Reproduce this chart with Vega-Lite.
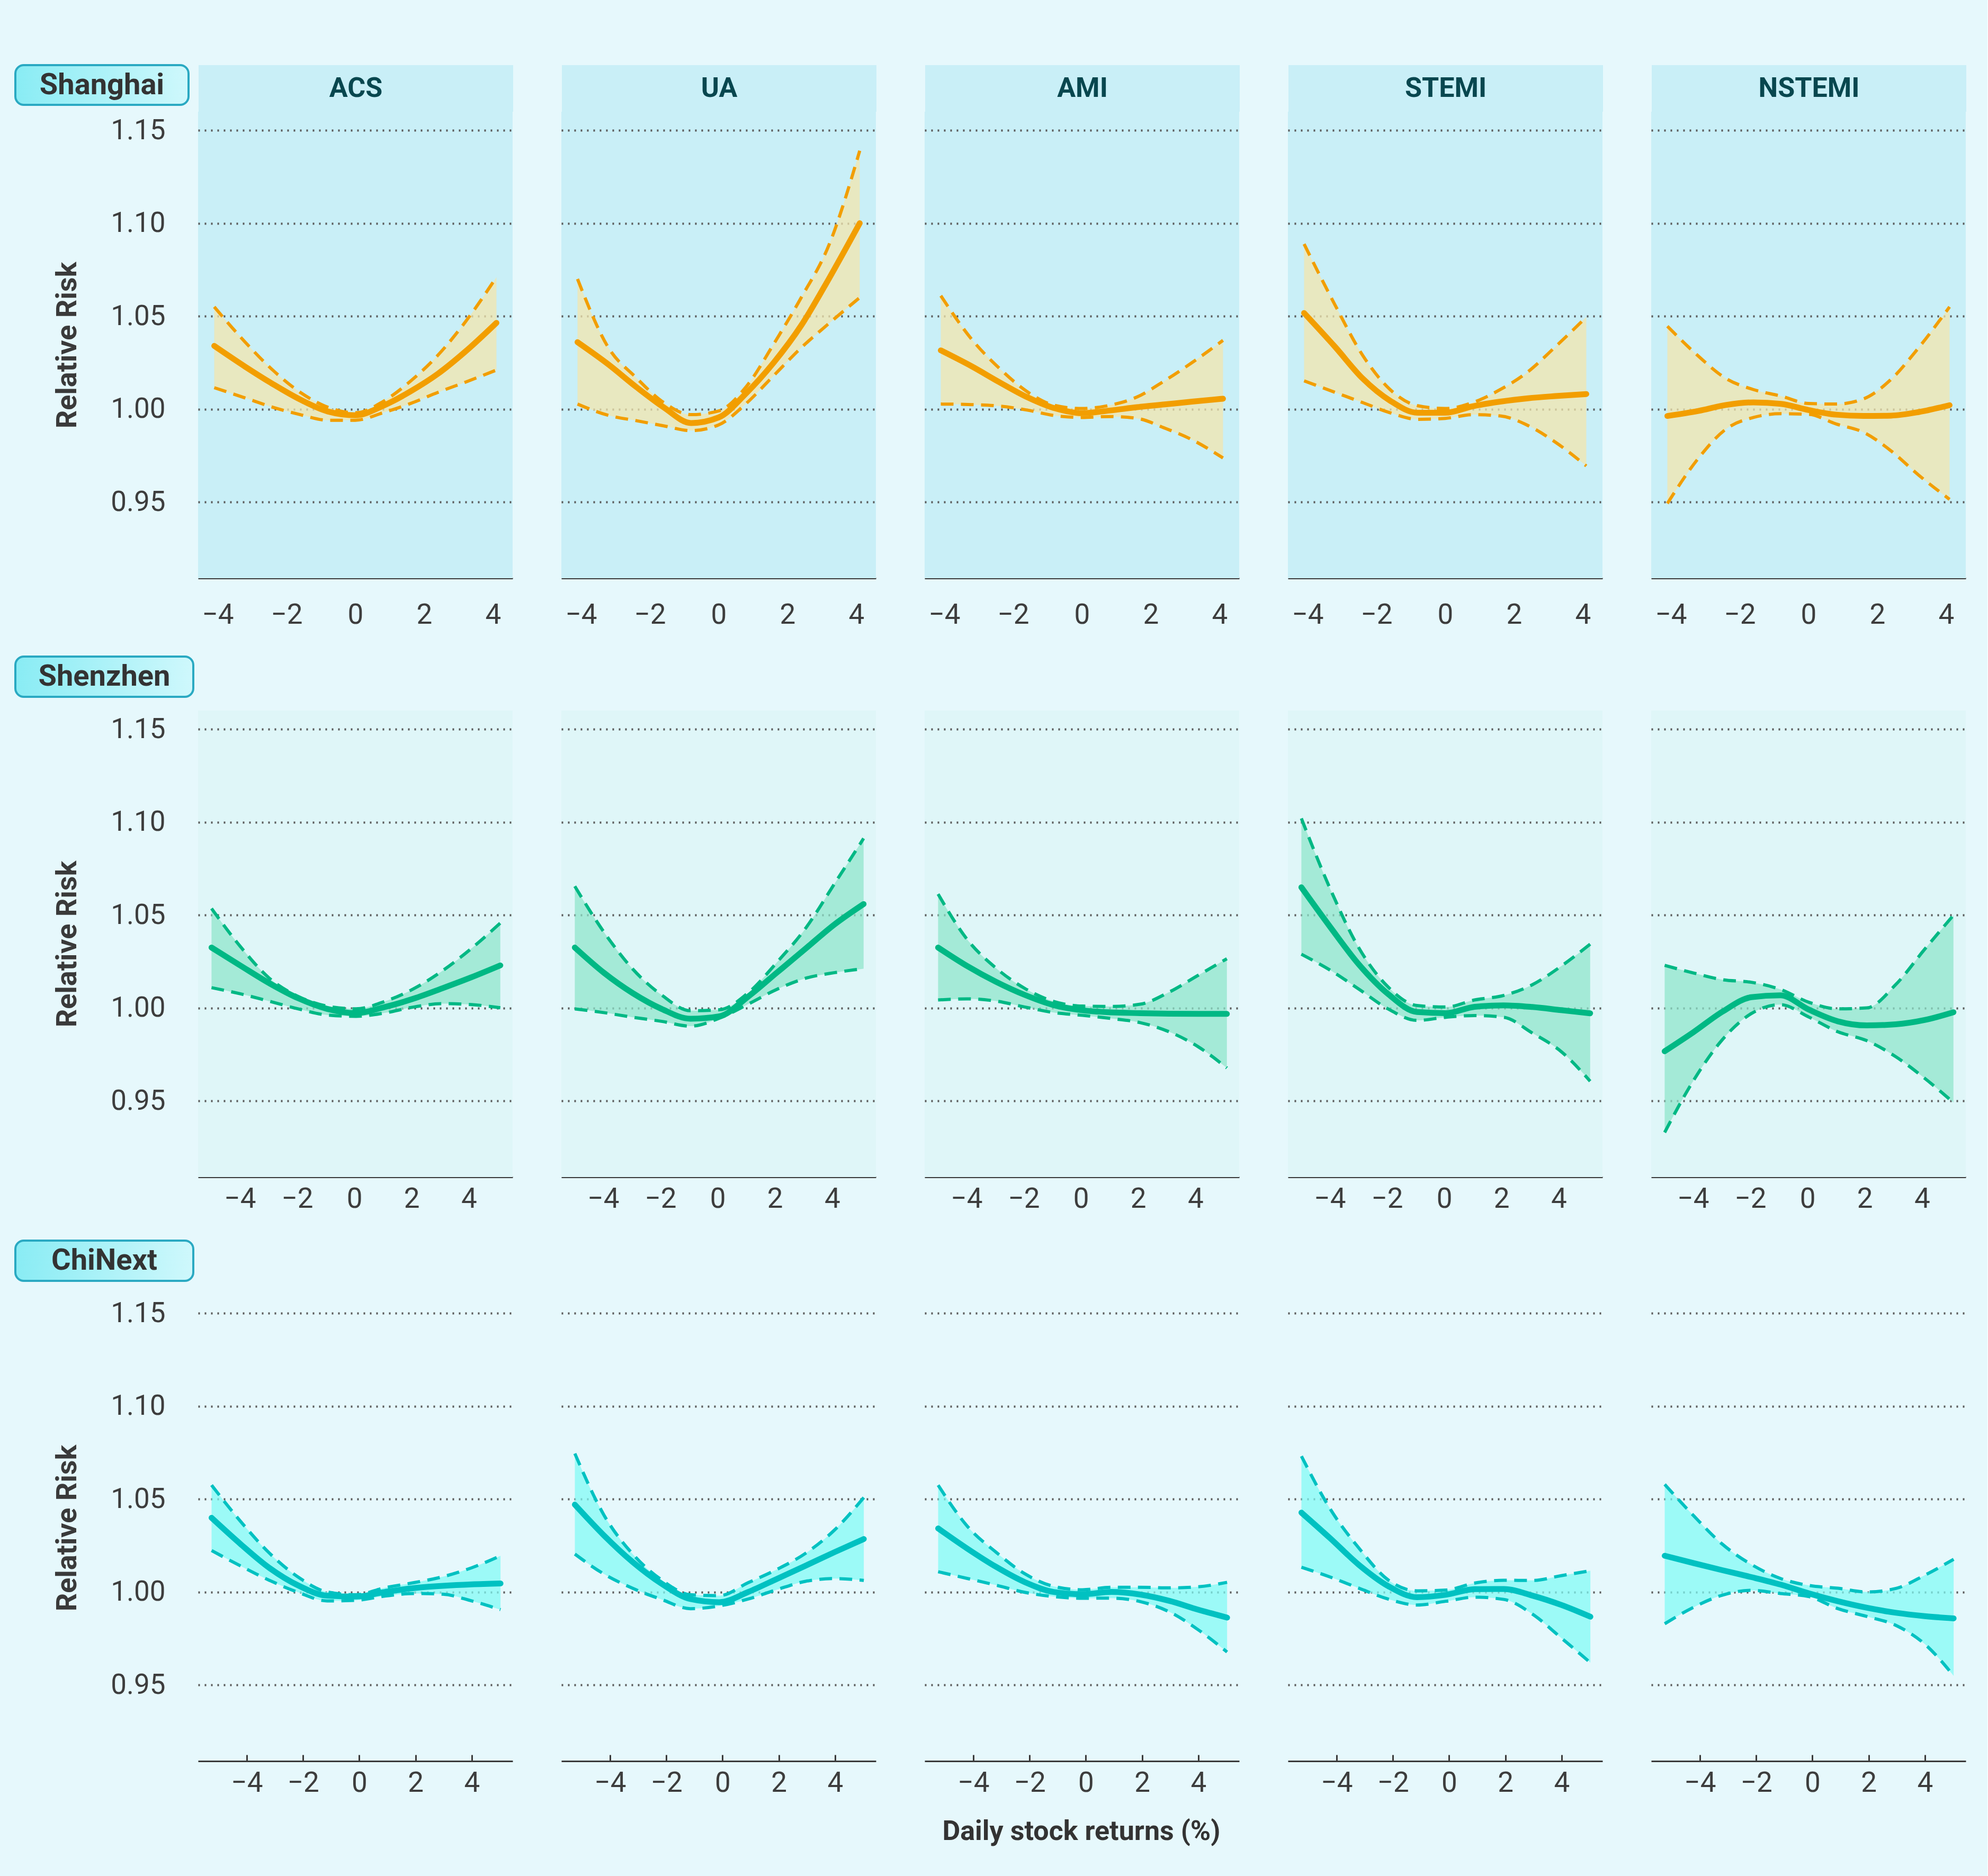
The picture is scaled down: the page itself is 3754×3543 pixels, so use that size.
{
  "$schema": "https://vega.github.io/schema/vega-lite/v6.json",
  "background": "#e6f8fc",
  "padding": {"left": 27, "top": 121, "right": 40, "bottom": 58},
  "config": {
    "font": "Roboto",
    "view": {"stroke": null},
    "axis": {"labelFont": "Roboto", "titleFont": "Roboto"}
  },
  "title": {
    "text": "Daily stock returns (%)",
    "orient": "bottom",
    "anchor": "middle",
    "dx": 172,
    "offset": 40,
    "font": "Roboto",
    "fontSize": 52,
    "fontWeight": "bold",
    "color": "#333333"
  },
  "datasets": {
    "shanghai": [
      {"o": "ACS", "x": -4.1, "e": 1.034, "l": 1.0115, "u": 1.055},
      {"o": "ACS", "x": -3.2, "e": 1.0228, "l": 1.006, "u": 1.036},
      {"o": "ACS", "x": -2.4, "e": 1.0135, "l": 1.001, "u": 1.021},
      {"o": "ACS", "x": -1.6, "e": 1.0051, "l": 0.997, "u": 1.009},
      {"o": "ACS", "x": -0.8, "e": 0.9987, "l": 0.994, "u": 1.001},
      {"o": "ACS", "x": 0, "e": 0.9967, "l": 0.994, "u": 0.998},
      {"o": "ACS", "x": 0.8, "e": 1.0017, "l": 0.998, "u": 1.004},
      {"o": "ACS", "x": 1.6, "e": 1.0095, "l": 1.003, "u": 1.015},
      {"o": "ACS", "x": 2.4, "e": 1.019, "l": 1.009, "u": 1.029},
      {"o": "ACS", "x": 3.2, "e": 1.031, "l": 1.0145, "u": 1.047},
      {"o": "ACS", "x": 4.1, "e": 1.0464, "l": 1.021, "u": 1.071},
      {"o": "UA", "x": -4.1, "e": 1.036, "l": 1.0027, "u": 1.07},
      {"o": "UA", "x": -3.2, "e": 1.024, "l": 0.9966, "u": 1.033},
      {"o": "UA", "x": -2.4, "e": 1.012, "l": 0.9938, "u": 1.017},
      {"o": "UA", "x": -1.6, "e": 1.001, "l": 0.991, "u": 1.0036},
      {"o": "UA", "x": -0.8, "e": 0.9925, "l": 0.9884, "u": 0.997},
      {"o": "UA", "x": 0, "e": 0.9955, "l": 0.9915, "u": 0.999},
      {"o": "UA", "x": 0.8, "e": 1.0085, "l": 1.003, "u": 1.012},
      {"o": "UA", "x": 1.6, "e": 1.025, "l": 1.018, "u": 1.035},
      {"o": "UA", "x": 2.4, "e": 1.045, "l": 1.033, "u": 1.06},
      {"o": "UA", "x": 3.2, "e": 1.07, "l": 1.046, "u": 1.088},
      {"o": "UA", "x": 4.1, "e": 1.1, "l": 1.06, "u": 1.139},
      {"o": "AMI", "x": -4.1, "e": 1.0316, "l": 1.0027, "u": 1.061},
      {"o": "AMI", "x": -3.2, "e": 1.023, "l": 1.0024, "u": 1.0375},
      {"o": "AMI", "x": -2.4, "e": 1.0145, "l": 1.0016, "u": 1.022},
      {"o": "AMI", "x": -1.6, "e": 1.0065, "l": 0.9995, "u": 1.0095},
      {"o": "AMI", "x": -0.8, "e": 1.0005, "l": 0.9965, "u": 1.002},
      {"o": "AMI", "x": 0, "e": 0.9978, "l": 0.9955, "u": 1.0003},
      {"o": "AMI", "x": 0.8, "e": 0.9992, "l": 0.996, "u": 1.002},
      {"o": "AMI", "x": 1.6, "e": 1.001, "l": 0.995, "u": 1.0065},
      {"o": "AMI", "x": 2.4, "e": 1.0025, "l": 0.9898, "u": 1.0152},
      {"o": "AMI", "x": 3.2, "e": 1.004, "l": 0.9835, "u": 1.025},
      {"o": "AMI", "x": 4.1, "e": 1.0056, "l": 0.9737, "u": 1.037},
      {"o": "STEMI", "x": -4.1, "e": 1.0517, "l": 1.0152, "u": 1.0888},
      {"o": "STEMI", "x": -3.2, "e": 1.0335, "l": 1.009, "u": 1.056},
      {"o": "STEMI", "x": -2.4, "e": 1.0165, "l": 1.0035, "u": 1.029},
      {"o": "STEMI", "x": -1.6, "e": 1.0045, "l": 0.998, "u": 1.0105},
      {"o": "STEMI", "x": -0.8, "e": 0.998, "l": 0.9945, "u": 1.0018},
      {"o": "STEMI", "x": 0, "e": 0.998, "l": 0.995, "u": 1.0003},
      {"o": "STEMI", "x": 0.8, "e": 1.0015, "l": 0.997, "u": 1.0035},
      {"o": "STEMI", "x": 1.6, "e": 1.004, "l": 0.9963, "u": 1.0105},
      {"o": "STEMI", "x": 2.4, "e": 1.0058, "l": 0.9912, "u": 1.02},
      {"o": "STEMI", "x": 3.2, "e": 1.007, "l": 0.9822, "u": 1.0335},
      {"o": "STEMI", "x": 4.1, "e": 1.0081, "l": 0.9694, "u": 1.0495},
      {"o": "NSTEMI", "x": -4.1, "e": 0.9963, "l": 0.9492, "u": 1.0446},
      {"o": "NSTEMI", "x": -3.2, "e": 0.999, "l": 0.9735, "u": 1.0285},
      {"o": "NSTEMI", "x": -2.4, "e": 1.0022, "l": 0.9892, "u": 1.0165},
      {"o": "NSTEMI", "x": -1.6, "e": 1.0036, "l": 0.9955, "u": 1.0105},
      {"o": "NSTEMI", "x": -0.8, "e": 1.0028, "l": 0.9975, "u": 1.007},
      {"o": "NSTEMI", "x": 0, "e": 0.9995, "l": 0.9972, "u": 1.003},
      {"o": "NSTEMI", "x": 0.8, "e": 0.997, "l": 0.992, "u": 1.0027},
      {"o": "NSTEMI", "x": 1.6, "e": 0.9963, "l": 0.9875, "u": 1.0055},
      {"o": "NSTEMI", "x": 2.4, "e": 0.9965, "l": 0.9775, "u": 1.016},
      {"o": "NSTEMI", "x": 3.2, "e": 0.9984, "l": 0.9645, "u": 1.033},
      {"o": "NSTEMI", "x": 4.1, "e": 1.0021, "l": 0.9514, "u": 1.055}
    ],
    "shenzhen": [
      {"o": "ACS", "x": -4.99, "e": 1.0325, "l": 1.0109, "u": 1.0535},
      {"o": "ACS", "x": -3.98, "e": 1.0228, "l": 1.0076, "u": 1.033},
      {"o": "ACS", "x": -2.97, "e": 1.0133, "l": 1.0036, "u": 1.016},
      {"o": "ACS", "x": -1.96, "e": 1.0052, "l": 0.9995, "u": 1.0062},
      {"o": "ACS", "x": -0.95, "e": 0.9995, "l": 0.9962, "u": 1.001},
      {"o": "ACS", "x": 0.06, "e": 0.9972, "l": 0.9955, "u": 0.9995},
      {"o": "ACS", "x": 1.06, "e": 1.0005, "l": 0.9973, "u": 1.0035},
      {"o": "ACS", "x": 2.07, "e": 1.005, "l": 1.0005, "u": 1.0103},
      {"o": "ACS", "x": 3.08, "e": 1.0106, "l": 1.0023, "u": 1.02},
      {"o": "ACS", "x": 4.09, "e": 1.0165, "l": 1.0018, "u": 1.032},
      {"o": "ACS", "x": 5.1, "e": 1.0229, "l": 1.0001, "u": 1.0457},
      {"o": "UA", "x": -4.99, "e": 1.0325, "l": 0.9995, "u": 1.0655},
      {"o": "UA", "x": -3.98, "e": 1.019, "l": 0.9975, "u": 1.041},
      {"o": "UA", "x": -2.97, "e": 1.008, "l": 0.995, "u": 1.021},
      {"o": "UA", "x": -1.96, "e": 0.9995, "l": 0.9928, "u": 1.007},
      {"o": "UA", "x": -0.95, "e": 0.9942, "l": 0.9902, "u": 0.9985},
      {"o": "UA", "x": 0.06, "e": 0.9955, "l": 0.9945, "u": 0.999},
      {"o": "UA", "x": 1.06, "e": 1.006, "l": 1.002, "u": 1.008},
      {"o": "UA", "x": 2.07, "e": 1.019, "l": 1.01, "u": 1.0245},
      {"o": "UA", "x": 3.08, "e": 1.032, "l": 1.016, "u": 1.043},
      {"o": "UA", "x": 4.09, "e": 1.045, "l": 1.019, "u": 1.067},
      {"o": "UA", "x": 5.1, "e": 1.0559, "l": 1.0211, "u": 1.0912},
      {"o": "AMI", "x": -4.99, "e": 1.0325, "l": 1.0043, "u": 1.0613},
      {"o": "AMI", "x": -3.98, "e": 1.0226, "l": 1.0049, "u": 1.037},
      {"o": "AMI", "x": -2.97, "e": 1.0141, "l": 1.0037, "u": 1.0215},
      {"o": "AMI", "x": -1.96, "e": 1.007, "l": 1.0005, "u": 1.0105},
      {"o": "AMI", "x": -0.95, "e": 1.0015, "l": 0.9975, "u": 1.0035},
      {"o": "AMI", "x": 0.06, "e": 0.9987, "l": 0.996, "u": 1.001},
      {"o": "AMI", "x": 1.06, "e": 0.9976, "l": 0.9943, "u": 1.0008},
      {"o": "AMI", "x": 2.07, "e": 0.9972, "l": 0.9921, "u": 1.002},
      {"o": "AMI", "x": 3.08, "e": 0.9969, "l": 0.9872, "u": 1.0085},
      {"o": "AMI", "x": 4.09, "e": 0.9968, "l": 0.9792, "u": 1.0175},
      {"o": "AMI", "x": 5.1, "e": 0.9968, "l": 0.9677, "u": 1.0265},
      {"o": "STEMI", "x": -4.99, "e": 1.0649, "l": 1.0289, "u": 1.102},
      {"o": "STEMI", "x": -3.98, "e": 1.0435, "l": 1.0203, "u": 1.064},
      {"o": "STEMI", "x": -2.97, "e": 1.0232, "l": 1.01, "u": 1.032},
      {"o": "STEMI", "x": -1.96, "e": 1.0075, "l": 0.9995, "u": 1.0113},
      {"o": "STEMI", "x": -0.95, "e": 0.9978, "l": 0.9933, "u": 1.0013},
      {"o": "STEMI", "x": 0.06, "e": 0.9972, "l": 0.995, "u": 1.0005},
      {"o": "STEMI", "x": 1.06, "e": 1.0006, "l": 0.9959, "u": 1.0043},
      {"o": "STEMI", "x": 2.07, "e": 1.0014, "l": 0.995, "u": 1.0067},
      {"o": "STEMI", "x": 3.08, "e": 1.0005, "l": 0.9865, "u": 1.0125},
      {"o": "STEMI", "x": 4.09, "e": 0.9988, "l": 0.9765, "u": 1.0225},
      {"o": "STEMI", "x": 5.1, "e": 0.9971, "l": 0.9606, "u": 1.0343},
      {"o": "NSTEMI", "x": -4.99, "e": 0.9767, "l": 0.933, "u": 1.0229},
      {"o": "NSTEMI", "x": -3.98, "e": 0.987, "l": 0.961, "u": 1.0188},
      {"o": "NSTEMI", "x": -2.97, "e": 0.998, "l": 0.983, "u": 1.0152},
      {"o": "NSTEMI", "x": -1.96, "e": 1.0058, "l": 0.997, "u": 1.0138},
      {"o": "NSTEMI", "x": -0.95, "e": 1.0068, "l": 1.0018, "u": 1.01},
      {"o": "NSTEMI", "x": 0.06, "e": 0.999, "l": 0.995, "u": 1.003},
      {"o": "NSTEMI", "x": 1.06, "e": 0.9928, "l": 0.9872, "u": 0.9995},
      {"o": "NSTEMI", "x": 2.07, "e": 0.9906, "l": 0.9824, "u": 1.0},
      {"o": "NSTEMI", "x": 3.08, "e": 0.9912, "l": 0.9738, "u": 1.0125},
      {"o": "NSTEMI", "x": 4.09, "e": 0.9935, "l": 0.9622, "u": 1.0315},
      {"o": "NSTEMI", "x": 5.1, "e": 0.9977, "l": 0.9491, "u": 1.0499}
    ],
    "chinext": [
      {"o": "ACS", "x": -5.25, "e": 1.0399, "l": 1.0223, "u": 1.0575},
      {"o": "ACS", "x": -4.22, "e": 1.0258, "l": 1.014, "u": 1.038},
      {"o": "ACS", "x": -3.2, "e": 1.013, "l": 1.0063, "u": 1.021},
      {"o": "ACS", "x": -2.17, "e": 1.0035, "l": 0.9998, "u": 1.008},
      {"o": "ACS", "x": -1.14, "e": 0.998, "l": 0.9952, "u": 1.0},
      {"o": "ACS", "x": -0.12, "e": 0.9975, "l": 0.9955, "u": 0.9985},
      {"o": "ACS", "x": 0.91, "e": 1.0, "l": 0.9978, "u": 1.0023},
      {"o": "ACS", "x": 1.94, "e": 1.0021, "l": 0.9992, "u": 1.005},
      {"o": "ACS", "x": 2.97, "e": 1.0033, "l": 0.9988, "u": 1.0082},
      {"o": "ACS", "x": 3.99, "e": 1.0041, "l": 0.9952, "u": 1.013},
      {"o": "ACS", "x": 5.02, "e": 1.0046, "l": 0.9905, "u": 1.0195},
      {"o": "UA", "x": -5.25, "e": 1.047, "l": 1.0204, "u": 1.0745},
      {"o": "UA", "x": -4.22, "e": 1.0305, "l": 1.0097, "u": 1.0415},
      {"o": "UA", "x": -3.2, "e": 1.0162, "l": 1.002, "u": 1.0205},
      {"o": "UA", "x": -2.17, "e": 1.0045, "l": 0.996, "u": 1.0065},
      {"o": "UA", "x": -1.14, "e": 0.9962, "l": 0.991, "u": 0.9985},
      {"o": "UA", "x": -0.12, "e": 0.9945, "l": 0.9925, "u": 0.998},
      {"o": "UA", "x": 0.91, "e": 1.0, "l": 0.9962, "u": 1.005},
      {"o": "UA", "x": 1.94, "e": 1.0071, "l": 1.0013, "u": 1.0122},
      {"o": "UA", "x": 2.97, "e": 1.0143, "l": 1.0058, "u": 1.021},
      {"o": "UA", "x": 3.99, "e": 1.0215, "l": 1.0072, "u": 1.0335},
      {"o": "UA", "x": 5.02, "e": 1.0285, "l": 1.0062, "u": 1.0508},
      {"o": "AMI", "x": -5.25, "e": 1.0342, "l": 1.0109, "u": 1.0575},
      {"o": "AMI", "x": -4.22, "e": 1.0234, "l": 1.0073, "u": 1.0355},
      {"o": "AMI", "x": -3.2, "e": 1.0136, "l": 1.0037, "u": 1.0215},
      {"o": "AMI", "x": -2.17, "e": 1.0053, "l": 0.9998, "u": 1.0098},
      {"o": "AMI", "x": -1.14, "e": 1.0, "l": 0.9975, "u": 1.003},
      {"o": "AMI", "x": -0.12, "e": 0.9988, "l": 0.9966, "u": 1.0012},
      {"o": "AMI", "x": 0.91, "e": 1.0, "l": 0.9967, "u": 1.0025},
      {"o": "AMI", "x": 1.94, "e": 0.9986, "l": 0.9948, "u": 1.0025},
      {"o": "AMI", "x": 2.97, "e": 0.9952, "l": 0.9893, "u": 1.0022},
      {"o": "AMI", "x": 3.99, "e": 0.9905, "l": 0.9797, "u": 1.0028},
      {"o": "AMI", "x": 5.02, "e": 0.9862, "l": 0.9677, "u": 1.0052},
      {"o": "STEMI", "x": -5.25, "e": 1.0427, "l": 1.0133, "u": 1.0731},
      {"o": "STEMI", "x": -4.22, "e": 1.0288, "l": 1.008, "u": 1.0445},
      {"o": "STEMI", "x": -3.2, "e": 1.0145, "l": 1.002, "u": 1.0235},
      {"o": "STEMI", "x": -2.17, "e": 1.0032, "l": 0.9962, "u": 1.0065},
      {"o": "STEMI", "x": -1.14, "e": 0.9972, "l": 0.993, "u": 1.0006},
      {"o": "STEMI", "x": -0.12, "e": 0.9985, "l": 0.995, "u": 1.001},
      {"o": "STEMI", "x": 0.91, "e": 1.0015, "l": 0.9972, "u": 1.0048},
      {"o": "STEMI", "x": 1.94, "e": 1.0016, "l": 0.996, "u": 1.0063},
      {"o": "STEMI", "x": 2.97, "e": 0.998, "l": 0.988, "u": 1.0062},
      {"o": "STEMI", "x": 3.99, "e": 0.993, "l": 0.9752, "u": 1.0088},
      {"o": "STEMI", "x": 5.02, "e": 0.9867, "l": 0.962, "u": 1.0114},
      {"o": "NSTEMI", "x": -5.25, "e": 1.0195, "l": 0.9829, "u": 1.0579},
      {"o": "NSTEMI", "x": -4.22, "e": 1.0155, "l": 0.9918, "u": 1.041},
      {"o": "NSTEMI", "x": -3.2, "e": 1.0117, "l": 0.9983, "u": 1.0257},
      {"o": "NSTEMI", "x": -2.17, "e": 1.008, "l": 1.0009, "u": 1.0148},
      {"o": "NSTEMI", "x": -1.14, "e": 1.004, "l": 0.9992, "u": 1.0073},
      {"o": "NSTEMI", "x": -0.12, "e": 0.9992, "l": 0.9975, "u": 1.0035},
      {"o": "NSTEMI", "x": 0.91, "e": 0.995, "l": 0.991, "u": 1.002},
      {"o": "NSTEMI", "x": 1.94, "e": 0.9915, "l": 0.9868, "u": 1.0},
      {"o": "NSTEMI", "x": 2.97, "e": 0.9888, "l": 0.982, "u": 1.0019},
      {"o": "NSTEMI", "x": 3.99, "e": 0.987, "l": 0.972, "u": 1.009},
      {"o": "NSTEMI", "x": 5.02, "e": 0.9858, "l": 0.9549, "u": 1.0176}
    ]
  },
  "spacing": 50,
  "vconcat": [
    {
      "spacing": 0,
      "vconcat": [
        {
          "spacing": 17,
          "hconcat": [
            {
              "width": 327,
              "height": 75,
              "data": {"values": [{"t": "Shanghai"}]},
              "layer": [
                {
                  "mark": {
                    "type": "rect",
                    "cornerRadius": 16,
                    "stroke": "#2aa9c2",
                    "strokeWidth": 4,
                    "fill": {"gradient": "linear", "x1": 0, "y1": 0, "x2": 1, "y2": 0, "stops": [{"offset": 0, "color": "#89ecf4"}, {"offset": 1, "color": "#cff8fc"}]}
                  },
                  "encoding": {
                    "x": {"datum": 0, "type": "quantitative", "scale": {"domain": [0, 1], "nice": false, "zero": false}, "axis": null},
                    "x2": {"datum": 1},
                    "y": {"datum": 0, "type": "quantitative", "scale": {"domain": [0, 1], "nice": false, "zero": false}, "axis": null},
                    "y2": {"datum": 1}
                  }
                },
                {
                  "mark": {"type": "text", "font": "Roboto", "fontWeight": "bold", "fontSize": 56, "color": "#333333"},
                  "encoding": {
                    "x": {"datum": 0.5, "type": "quantitative"},
                    "y": {"datum": 0.5, "type": "quantitative"},
                    "text": {"field": "t"}
                  }
                }
              ]
            },
            {
              "data": {"values": [{"o": "ACS"}, {"o": "UA"}, {"o": "AMI"}, {"o": "STEMI"}, {"o": "NSTEMI"}]},
              "facet": {"column": {"field": "o", "type": "nominal", "sort": ["ACS", "UA", "AMI", "STEMI", "NSTEMI"], "header": {"labels": false, "title": null}}},
              "spacing": 92,
              "spec": {
                "width": 594,
                "height": 88,
                "view": {"fill": "#c9eff7", "stroke": null},
                "mark": {"type": "text", "font": "Roboto", "fontSize": 52, "fontWeight": "bold", "color": "#08474f"},
                "encoding": {"text": {"field": "o"}}
              }
            }
          ]
        },
        {
          "spacing": 70,
          "hconcat": [
            {"width": 1, "height": 1, "data": {"values": []}, "mark": "point"},
            {
              "data": {"name": "shanghai"},
              "facet": {"column": {"field": "o", "type": "nominal", "sort": ["ACS", "UA", "AMI", "STEMI", "NSTEMI"], "header": {"labels": false, "title": null}}},
              "spacing": 92,
              "spec": {
                "width": 594,
                "height": 881,
                "view": {"fill": "#c9eff7", "stroke": null},
                "encoding": {
                  "x": {
                    "field": "x",
                    "type": "quantitative",
                    "scale": {"domain": [-4.57, 4.57], "nice": false, "zero": false},
                    "axis": {"values": [-4, -2, 0, 2, 4], "title": null, "grid": false, "domainColor": "#3a3a3a", "domainWidth": 3, "tickColor": "#3a3a3a", "tickWidth": 3, "tickSize": -12, "labelFontSize": 53, "labelColor": "#3d3d3d", "labelPadding": 55, "labelFlush": false, "labelOverlap": false}
                  }
                },
                "layer": [
                  {
                    "mark": {"type": "area", "interpolate": "monotone", "color": "#f1e6ae", "opacity": 0.75},
                    "encoding": {
                      "y": {
                        "field": "l",
                        "type": "quantitative",
                        "title": "Relative Risk",
                        "scale": {"domain": [0.909, 1.16], "nice": false, "zero": false},
                        "axis": {"values": [0.95, 1, 1.05, 1.1, 1.15], "format": ".2f", "titleFontSize": 54, "titleFontWeight": "bold", "titleColor": "#3a3a3a", "titlePadding": 54, "labelFontSize": 53, "labelColor": "#3d3d3d", "labelPadding": 62, "ticks": false, "tickSize": 0, "domain": false, "grid": true, "gridColor": "#595959", "gridWidth": 4, "gridDash": [3, 9]}
                      },
                      "y2": {"field": "u"}
                    }
                  },
                  {
                    "mark": {"type": "line", "interpolate": "monotone", "color": "#f29e00", "strokeWidth": 6, "strokeDash": [24, 14]},
                    "encoding": {"y": {"field": "l", "type": "quantitative", "title": "Relative Risk"}}
                  },
                  {
                    "mark": {"type": "line", "interpolate": "monotone", "color": "#f29e00", "strokeWidth": 6, "strokeDash": [24, 14]},
                    "encoding": {"y": {"field": "u", "type": "quantitative", "title": "Relative Risk"}}
                  },
                  {
                    "mark": {"type": "line", "interpolate": "monotone", "color": "#f29e00", "strokeWidth": 11, "strokeCap": "round"},
                    "encoding": {"y": {"field": "e", "type": "quantitative", "title": "Relative Risk"}}
                  }
                ]
              }
            }
          ]
        }
      ]
    },
    {
      "spacing": 24,
      "vconcat": [
        {
          "width": 336,
          "height": 76,
          "data": {"values": [{"t": "Shenzhen"}]},
          "layer": [
            {
              "mark": {
                "type": "rect",
                "cornerRadius": 16,
                "stroke": "#2aa9c2",
                "strokeWidth": 4,
                "fill": {"gradient": "linear", "x1": 0, "y1": 0, "x2": 1, "y2": 0, "stops": [{"offset": 0, "color": "#89ecf4"}, {"offset": 1, "color": "#cff8fc"}]}
              },
              "encoding": {
                "x": {"datum": 0, "type": "quantitative", "scale": {"domain": [0, 1], "nice": false, "zero": false}, "axis": null},
                "x2": {"datum": 1},
                "y": {"datum": 0, "type": "quantitative", "scale": {"domain": [0, 1], "nice": false, "zero": false}, "axis": null},
                "y2": {"datum": 1}
              }
            },
            {
              "mark": {"type": "text", "font": "Roboto", "fontWeight": "bold", "fontSize": 56, "color": "#333333"},
              "encoding": {
                "x": {"datum": 0.5, "type": "quantitative"},
                "y": {"datum": 0.5, "type": "quantitative"},
                "text": {"field": "t"}
              }
            }
          ]
        },
        {
          "spacing": 70,
          "hconcat": [
            {"width": 1, "height": 1, "data": {"values": []}, "mark": "point"},
            {
              "data": {"name": "shenzhen"},
              "facet": {"column": {"field": "o", "type": "nominal", "sort": ["ACS", "UA", "AMI", "STEMI", "NSTEMI"], "header": {"labels": false, "title": null}}},
              "spacing": 92,
              "spec": {
                "width": 594,
                "height": 881,
                "view": {"fill": "#dff6f8", "stroke": null},
                "encoding": {
                  "x": {
                    "field": "x",
                    "type": "quantitative",
                    "scale": {"domain": [-5.46, 5.53], "nice": false, "zero": false},
                    "axis": {"values": [-4, -2, 0, 2, 4], "title": null, "grid": false, "domainColor": "#3a3a3a", "domainWidth": 3, "tickColor": "#3a3a3a", "tickWidth": 3, "tickSize": -12, "labelFontSize": 53, "labelColor": "#3d3d3d", "labelPadding": 27, "labelFlush": false, "labelOverlap": false}
                  }
                },
                "layer": [
                  {
                    "mark": {"type": "area", "interpolate": "monotone", "color": "#8de5ca", "opacity": 0.72},
                    "encoding": {
                      "y": {
                        "field": "l",
                        "type": "quantitative",
                        "title": "Relative Risk",
                        "scale": {"domain": [0.909, 1.16], "nice": false, "zero": false},
                        "axis": {"values": [0.95, 1, 1.05, 1.1, 1.15], "format": ".2f", "titleFontSize": 54, "titleFontWeight": "bold", "titleColor": "#3a3a3a", "titlePadding": 54, "labelFontSize": 53, "labelColor": "#3d3d3d", "labelPadding": 62, "ticks": false, "tickSize": 0, "domain": false, "grid": true, "gridColor": "#595959", "gridWidth": 4, "gridDash": [3, 9]}
                      },
                      "y2": {"field": "u"}
                    }
                  },
                  {
                    "mark": {"type": "line", "interpolate": "monotone", "color": "#00b884", "strokeWidth": 6, "strokeDash": [24, 14]},
                    "encoding": {"y": {"field": "l", "type": "quantitative", "title": "Relative Risk"}}
                  },
                  {
                    "mark": {"type": "line", "interpolate": "monotone", "color": "#00b884", "strokeWidth": 6, "strokeDash": [24, 14]},
                    "encoding": {"y": {"field": "u", "type": "quantitative", "title": "Relative Risk"}}
                  },
                  {
                    "mark": {"type": "line", "interpolate": "monotone", "color": "#00b884", "strokeWidth": 11, "strokeCap": "round"},
                    "encoding": {"y": {"field": "e", "type": "quantitative", "title": "Relative Risk"}}
                  }
                ]
              }
            }
          ]
        }
      ]
    },
    {
      "spacing": 24,
      "vconcat": [
        {
          "width": 336,
          "height": 76,
          "data": {"values": [{"t": "ChiNext"}]},
          "layer": [
            {
              "mark": {
                "type": "rect",
                "cornerRadius": 16,
                "stroke": "#2aa9c2",
                "strokeWidth": 4,
                "fill": {"gradient": "linear", "x1": 0, "y1": 0, "x2": 1, "y2": 0, "stops": [{"offset": 0, "color": "#89ecf4"}, {"offset": 1, "color": "#cff8fc"}]}
              },
              "encoding": {
                "x": {"datum": 0, "type": "quantitative", "scale": {"domain": [0, 1], "nice": false, "zero": false}, "axis": null},
                "x2": {"datum": 1},
                "y": {"datum": 0, "type": "quantitative", "scale": {"domain": [0, 1], "nice": false, "zero": false}, "axis": null},
                "y2": {"datum": 1}
              }
            },
            {
              "mark": {"type": "text", "font": "Roboto", "fontWeight": "bold", "fontSize": 56, "color": "#333333"},
              "encoding": {
                "x": {"datum": 0.5, "type": "quantitative"},
                "y": {"datum": 0.5, "type": "quantitative"},
                "text": {"field": "t"}
              }
            }
          ]
        },
        {
          "spacing": 70,
          "hconcat": [
            {"width": 1, "height": 1, "data": {"values": []}, "mark": "point"},
            {
              "data": {"name": "chinext"},
              "facet": {"column": {"field": "o", "type": "nominal", "sort": ["ACS", "UA", "AMI", "STEMI", "NSTEMI"], "header": {"labels": false, "title": null}}},
              "spacing": 92,
              "spec": {
                "width": 594,
                "height": 881,
                "encoding": {
                  "x": {
                    "field": "x",
                    "type": "quantitative",
                    "scale": {"domain": [-5.73, 5.45], "nice": false, "zero": false},
                    "axis": {"values": [-4, -2, 0, 2, 4], "title": null, "grid": false, "domainColor": "#3a3a3a", "domainWidth": 3, "tickColor": "#3a3a3a", "tickWidth": 3, "tickSize": -12, "labelFontSize": 53, "labelColor": "#3d3d3d", "labelPadding": 27, "labelFlush": false, "labelOverlap": false}
                  }
                },
                "layer": [
                  {
                    "mark": {"type": "area", "interpolate": "monotone", "color": "#80fbf5", "opacity": 0.72},
                    "encoding": {
                      "y": {
                        "field": "l",
                        "type": "quantitative",
                        "title": "Relative Risk",
                        "scale": {"domain": [0.909, 1.16], "nice": false, "zero": false},
                        "axis": {"values": [0.95, 1, 1.05, 1.1, 1.15], "format": ".2f", "titleFontSize": 54, "titleFontWeight": "bold", "titleColor": "#3a3a3a", "titlePadding": 54, "labelFontSize": 53, "labelColor": "#3d3d3d", "labelPadding": 62, "ticks": false, "tickSize": 0, "domain": false, "grid": true, "gridColor": "#595959", "gridWidth": 4, "gridDash": [3, 9]}
                      },
                      "y2": {"field": "u"}
                    }
                  },
                  {
                    "mark": {"type": "line", "interpolate": "monotone", "color": "#00c1c1", "strokeWidth": 6, "strokeDash": [24, 14]},
                    "encoding": {"y": {"field": "l", "type": "quantitative", "title": "Relative Risk"}}
                  },
                  {
                    "mark": {"type": "line", "interpolate": "monotone", "color": "#00c1c1", "strokeWidth": 6, "strokeDash": [24, 14]},
                    "encoding": {"y": {"field": "u", "type": "quantitative", "title": "Relative Risk"}}
                  },
                  {
                    "mark": {"type": "line", "interpolate": "monotone", "color": "#00c1c1", "strokeWidth": 11, "strokeCap": "round"},
                    "encoding": {"y": {"field": "e", "type": "quantitative", "title": "Relative Risk"}}
                  }
                ]
              }
            }
          ]
        }
      ]
    }
  ]
}
